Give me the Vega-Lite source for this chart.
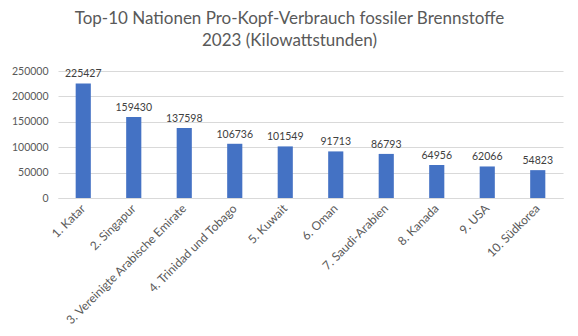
{
  "$schema": "https://vega.github.io/schema/vega-lite/v6.json",
  "width": 505,
  "height": 127,
  "autosize": {"type": "none"},
  "padding": {"left": 58, "top": 71, "right": 15, "bottom": 138},
  "background": "white",
  "title": {
    "text": ["Top-10 Nationen Pro-Kopf-Verbrauch fossiler Brennstoffe", "2023 (Kilowattstunden)"],
    "font": "Lato",
    "fontSize": 17,
    "fontWeight": "normal",
    "color": "#595959",
    "lineHeight": 22,
    "anchor": "middle",
    "dx": -21,
    "offset": 16
  },
  "data": {
    "values": [
      {"land": "1. Katar", "wert": 225427},
      {"land": "2. Singapur", "wert": 159430},
      {"land": "3. Vereinigte Arabische Emirate", "wert": 137598},
      {"land": "4. Trinidad und Tobago", "wert": 106736},
      {"land": "5. Kuwait", "wert": 101549},
      {"land": "6. Oman", "wert": 91713},
      {"land": "7. Saudi-Arabien", "wert": 86793},
      {"land": "8. Kanada", "wert": 64956},
      {"land": "9. USA", "wert": 62066},
      {"land": "10. Südkorea", "wert": 54823}
    ]
  },
  "encoding": {
    "x": {
      "field": "land", "type": "nominal", "sort": null,
      "scale": {"paddingInner": 0.7, "paddingOuter": 0.35},
      "axis": {
        "title": null, "labelAngle": -45, "labelAlign": "right", "labelBaseline": "middle",
        "labelFont": "Lato", "labelFontSize": 12, "labelColor": "#595959",
        "ticks": false, "domainColor": "#d9d9d9", "labelPadding": 8, "labelLimit": 300
      }
    },
    "y": {
      "field": "wert", "type": "quantitative",
      "scale": {"domain": [0, 250000], "nice": false},
      "axis": {
        "title": null, "values": [0, 50000, 100000, 150000, 200000, 250000],
        "format": "d", "labelFont": "Lato", "labelFontSize": 10.5, "labelColor": "#595959",
        "ticks": false, "domain": false, "gridColor": "#d9d9d9", "labelPadding": 10
      }
    }
  },
  "layer": [
    {"mark": {"type": "bar", "color": "#4472C4"}},
    {
      "mark": {"type": "text", "dy": -9, "font": "Lato", "fontSize": 10.5, "color": "#404040"},
      "encoding": {"text": {"field": "wert", "type": "quantitative", "format": "d"}}
    }
  ],
  "config": {"view": {"stroke": null}}
}
